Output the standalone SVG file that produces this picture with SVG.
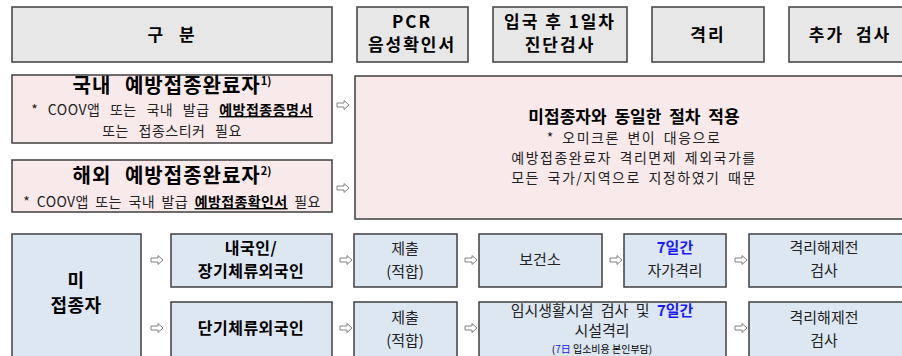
<svg xmlns="http://www.w3.org/2000/svg" width="902" height="356" viewBox="0 0 902 356">
<defs>
<style>
.box{stroke:#3f3f3f;stroke-width:1.5}
.hd{fill:#e7e7e7}
.pk{fill:#f8eaea}
.bl{fill:#dde7f2}
text{font-family:"Malgun Gothic","Noto Sans CJK KR",sans-serif;fill:#000;text-anchor:middle}
.b{font-weight:bold}
.h{font-size:17px;font-weight:bold;letter-spacing:2px}
.t{font-size:20px;font-weight:bold;letter-spacing:1px;word-spacing:8px}
.u{font-size:18px;font-weight:bold;letter-spacing:0.5px}
.s{font-size:14px;fill:#222;letter-spacing:0.5px;word-spacing:6px}
.m{font-size:15px;fill:#222}
.c{font-size:14px;fill:#222;letter-spacing:1.5px;word-spacing:3px}
.r3{font-size:16px;font-weight:bold;letter-spacing:0.5px}
.blue{fill:#1a1aff}
.arr{fill:#fff;stroke:#808080;stroke-width:1}
</style>
<path id="a" class="arr" d="M0,-2 H7 V-4.5 L12,0 L7,4.5 V2 H0 Z"/>
</defs>

<g id="hdr-gubun"><rect class="box hd" x="12" y="7" width="320" height="55"/><text class="h" x="172" y="41" style="word-spacing:8px">구 분</text></g>
<g id="hdr-pcr"><rect class="box hd" x="357" y="7" width="111" height="55"/><text class="h" x="412" y="28">PCR</text><text class="h" x="412" y="51">음성확인서</text></g>
<g id="hdr-day1"><rect class="box hd" x="493" y="7" width="134" height="55"/><text class="h" x="560" y="28">입국 후 1일차</text><text class="h" x="560" y="51">진단검사</text></g>
<g id="hdr-quar"><rect class="box hd" x="652" y="7" width="112" height="55"/><text class="h" x="708" y="41">격리</text></g>
<g id="hdr-extra"><rect class="box hd" x="789" y="7" width="130" height="55"/><text class="h" x="850" y="41" style="word-spacing:6px">추가 검사</text></g>

<g id="domestic"><rect class="box pk" x="12" y="75" width="320" height="68"/>
<text class="t" x="172" y="93">국내 예방접종완료자<tspan font-size="11" dy="-8" style="letter-spacing:0">1)</tspan></text>
<text class="s" x="172" y="115">* COOV앱 또는 국내 발급 <tspan class="b" fill="#000" text-decoration="underline">예방접종증명서</tspan></text>
<text class="s" x="172" y="136">또는 접종스티커 필요</text></g>

<g id="overseas"><rect class="box pk" x="12" y="160" width="320" height="52"/>
<text class="t" x="172" y="183">해외 예방접종완료자<tspan font-size="11" dy="-8" style="letter-spacing:0">2)</tspan></text>
<text class="s" x="172" y="207" style="word-spacing:3px;letter-spacing:0.4px">* COOV앱 또는 국내 발급 <tspan class="b" fill="#000" text-decoration="underline">예방접종확인서</tspan> 필요</text></g>

<g id="same"><rect class="box pk" x="355" y="76" width="560" height="143"/>
<text class="b" font-size="17" x="634" y="123" word-spacing="4">미접종자와 동일한 절차 적용</text>
<text class="c" x="634" y="143">* 오미크론 변이 대응으로</text>
<text class="c" x="634" y="163">예방접종완료자 격리면제 제외국가를</text>
<text class="c" x="634" y="183">모든 국가/지역으로 지정하였기 때문</text></g>

<g id="unvax"><rect class="box bl" x="12" y="234" width="129" height="140"/>
<text class="u" x="76" y="287">미</text><text class="u" x="76" y="312">접종자</text></g>
<g id="korean"><rect class="box bl" x="171" y="234" width="161" height="53"/>
<text class="r3" x="251" y="254">내국인/</text><text class="r3" x="251" y="277">장기체류외국인</text></g>
<g id="shortstay"><rect class="box bl" x="171" y="302" width="161" height="70"/>
<text class="r3" x="251" y="334">단기체류외국인</text></g>

<g id="submit1"><rect class="box bl" x="354" y="234" width="103" height="53"/>
<text class="m" x="405" y="254">제출</text><text class="m" x="405" y="277">(적합)</text></g>
<g id="health"><rect class="box bl" x="479" y="234" width="123" height="53"/>
<text class="m" x="540" y="265">보건소</text></g>
<g id="self"><rect class="box bl" x="624" y="234" width="102" height="53"/>
<text class="b blue" font-size="15" x="675" y="253">7일간</text><text class="m" x="675" y="276">자가격리</text></g>
<g id="release1"><rect class="box bl" x="749" y="234" width="170" height="53"/>
<text class="m" x="824" y="253">격리해제전</text><text class="m" x="824" y="276">검사</text></g>

<g id="submit2"><rect class="box bl" x="354" y="302" width="103" height="70"/>
<text class="m" x="405" y="323">제출</text><text class="m" x="405" y="346">(적합)</text></g>
<g id="facility"><rect class="box bl" x="479" y="302" width="247" height="70"/>
<text class="m" x="602" y="316" word-spacing="4">임시생활시설 검사 및 <tspan class="b blue">7일간</tspan></text>
<text class="m" x="602" y="336">시설격리</text>
<text font-size="10" x="602" y="353" fill="#222">(<tspan class="blue">7日</tspan> 입소비용 본인부담)</text></g>
<g id="release2"><rect class="box bl" x="749" y="302" width="170" height="70"/>
<text class="m" x="824" y="323">격리해제전</text><text class="m" x="824" y="346">검사</text></g>

<g id="connectors">
<use href="#a" x="337" y="105"/>
<use href="#a" x="337" y="188"/>
<use href="#a" x="151" y="260"/>
<use href="#a" x="151" y="328"/>
<use href="#a" x="340" y="260"/>
<use href="#a" x="465" y="260"/>
<use href="#a" x="610" y="260"/>
<use href="#a" x="735" y="260"/>
<use href="#a" x="340" y="328"/>
<use href="#a" x="465" y="328"/>
<use href="#a" x="735" y="328"/>
</g>
</svg>
